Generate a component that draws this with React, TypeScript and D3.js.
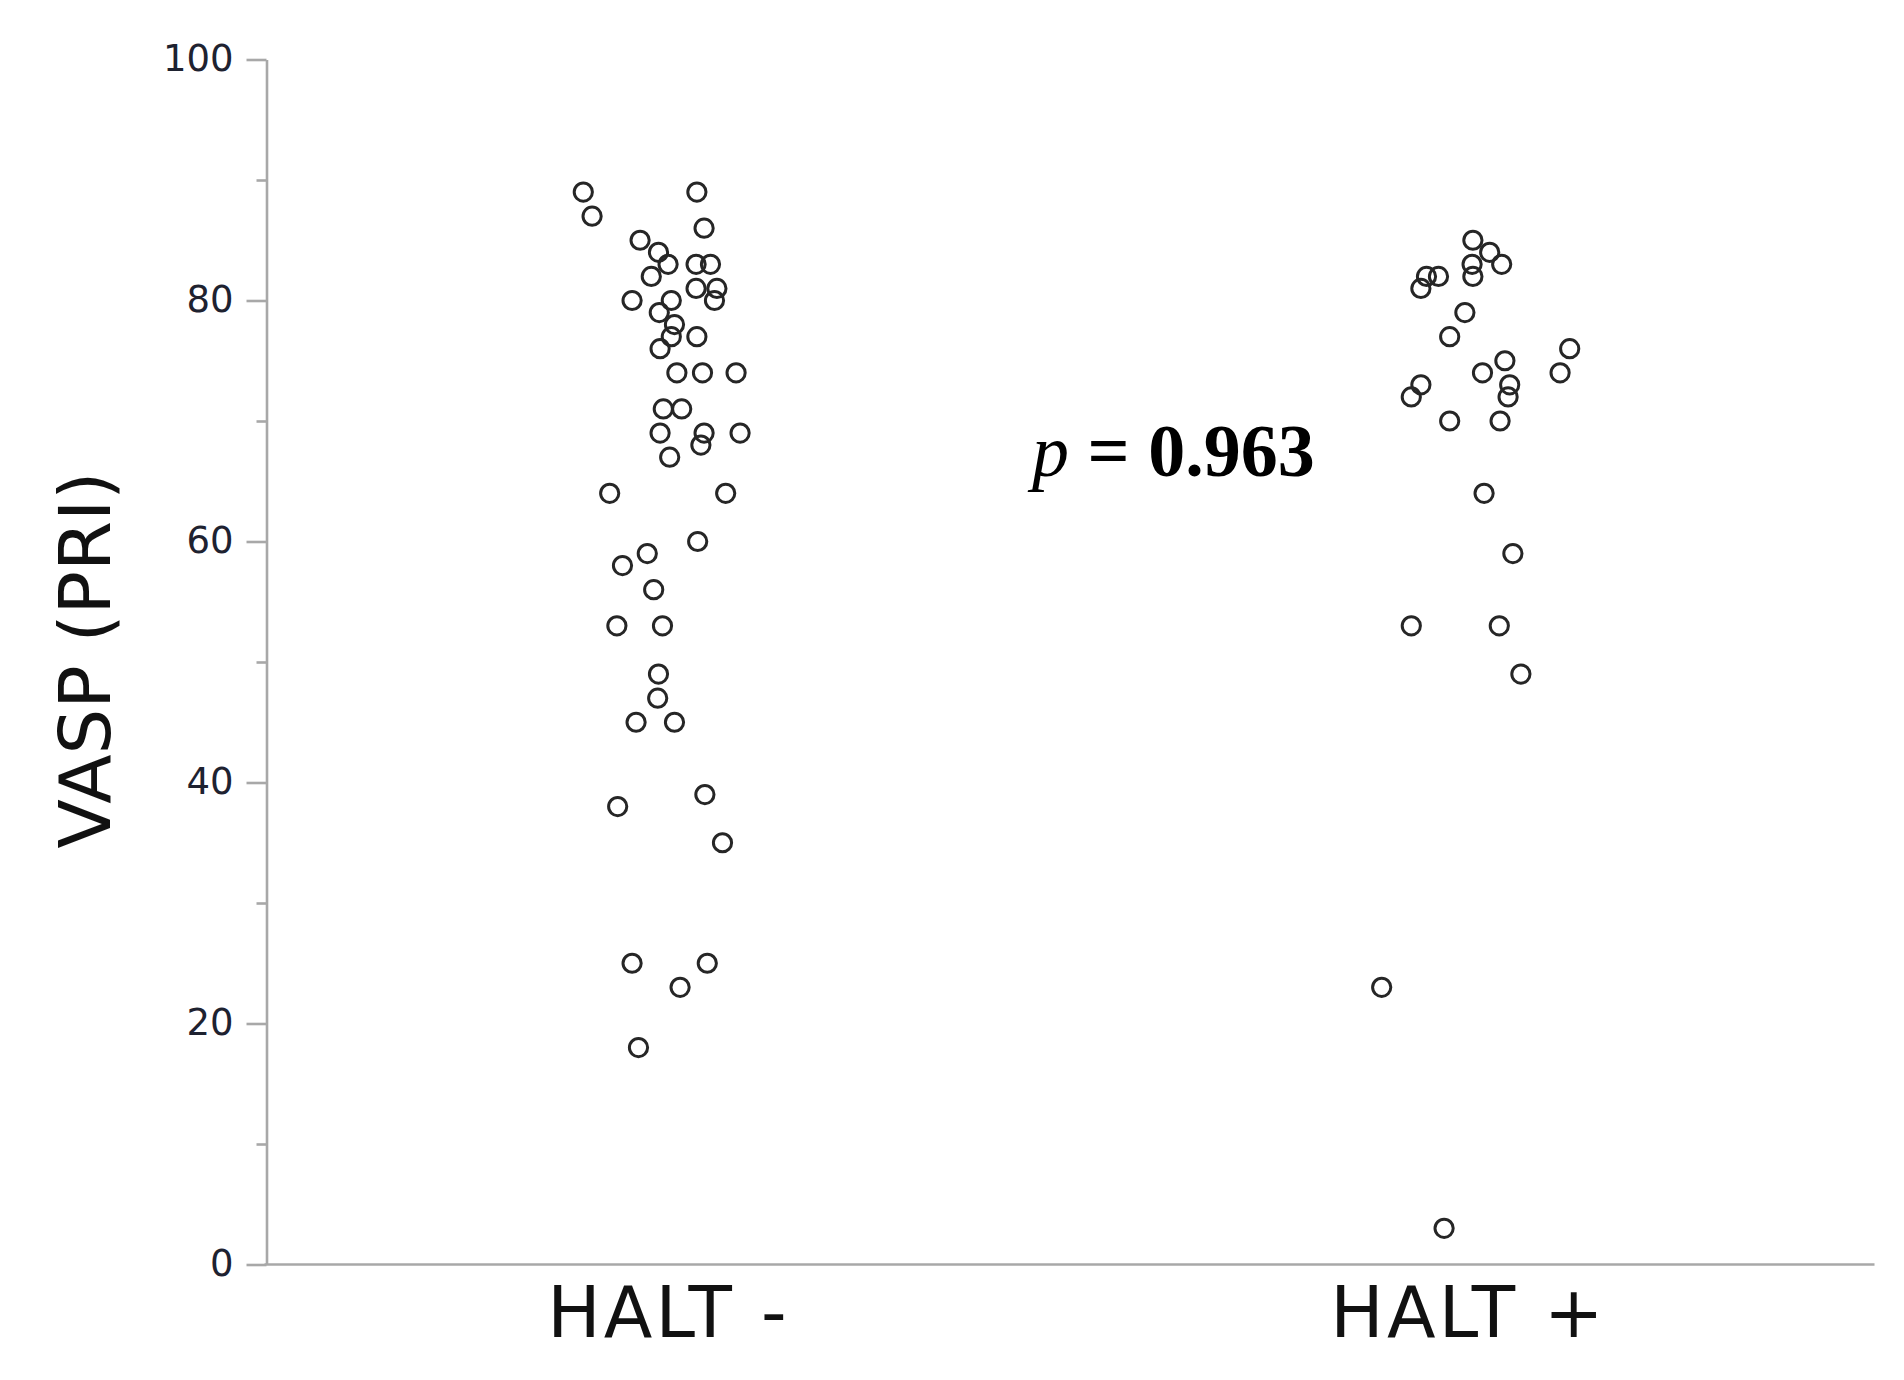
import React, { Component } from 'react';
import * as d3 from 'd3';

// groups on the x axis
const categories = ['HALT -', 'HALT +'];

// VASP (PRI) values, with their horizontal jitter (in category units)
const haltNegValues = [89, 87, 89, 86, 85, 84, 83, 83, 83, 82, 81, 81, 80, 80, 80, 79, 78, 77, 77, 76,
  74, 74, 74, 71, 71, 69, 69, 69, 68, 67, 64, 64, 60, 59, 58, 56, 53, 53, 49, 47, 45, 45, 38, 39, 35,
  25, 25, 23, 18];
const haltNegJitter = [-0.104, -0.093, 0.038, 0.047, -0.033, -0.010, 0.002, 0.037, 0.055, -0.019, 0.037,
  0.063, 0.060, -0.043, 0.006, -0.009, 0.010, 0.006, 0.038, -0.008, 0.013, 0.045, 0.087, -0.004, 0.019,
  -0.008, 0.047, 0.092, 0.043, 0.004, -0.071, 0.074, 0.039, -0.024, -0.055, -0.016, -0.062, -0.005,
  -0.010, -0.011, -0.038, 0.010, -0.061, 0.048, 0.070, -0.043, 0.051, 0.017, -0.035];

const haltPosValues = [85, 84, 83, 83, 82, 82, 82, 81, 79, 77, 76, 75, 74, 74, 73, 73, 72, 72, 70, 70,
  64, 59, 53, 53, 49, 23, 3];
const haltPosJitter = [0.008, 0.029, 0.044, 0.007, 0.008, -0.050, -0.035, -0.057, -0.002, -0.021, 0.129,
  0.048, 0.020, 0.117, 0.054, -0.057, -0.069, 0.052, -0.021, 0.042, 0.022, 0.058, -0.069, 0.041, 0.068,
  -0.106, -0.028];

const yTicks = [0, 20, 40, 60, 80, 100];
const yMinorTicks = [10, 30, 50, 70, 90];
const yLabel = 'VASP (PRI)';
const pValue = '0.963';

class App extends Component {
  svgRef = React.createRef<SVGSVGElement>();

  componentDidMount() {
    const width = 1904, height = 1380;
    const svg = d3.select(this.svgRef.current);
    svg.selectAll('*').remove();

    const axisColor = '#a8a8a8';
    const sans = '"DejaVu Sans", Verdana, sans-serif';

    const x = d3.scaleLinear().domain([-0.5, 1.5]).range([266.5, 1866.5]);
    const y = d3.scaleLinear().domain([0, 100]).range([1264.5, 59.5]);

    // y axis, major ticks with labels
    const yG = svg.append('g')
      .attr('transform', 'translate(' + x(-0.5) + ',0)')
      .call(d3.axisLeft(y).tickValues(yTicks).tickSize(20).tickSizeOuter(0).tickPadding(13));
    yG.select('.domain').attr('stroke', axisColor).attr('stroke-width', 2.6);
    yG.selectAll('.tick line').attr('stroke', axisColor).attr('stroke-width', 2.6);
    yG.selectAll('.tick text')
      .attr('fill', '#1e2230')
      .attr('font-family', sans)
      .attr('font-size', 37)
      .attr('dy', '0.3em');

    // minor ticks
    const yMinor = svg.append('g')
      .attr('transform', 'translate(' + x(-0.5) + ',0)')
      .call(d3.axisLeft(y).tickValues(yMinorTicks).tickSize(10).tickSizeOuter(0).tickFormat(() => ''));
    yMinor.select('.domain').remove();
    yMinor.selectAll('.tick line').attr('stroke', axisColor).attr('stroke-width', 2.6);

    // x axis baseline
    svg.append('line')
      .attr('x1', x(-0.5) - 2).attr('x2', x(1.51))
      .attr('y1', y(0)).attr('y2', y(0))
      .attr('stroke', axisColor).attr('stroke-width', 2.6);

    svg.append('g').selectAll('text')
      .data(categories)
      .enter().append('text')
      .attr('x', (d, i) => x(i) + 2)
      .attr('y', 1337)
      .attr('text-anchor', 'middle')
      .attr('font-family', sans)
      .attr('font-size', 71)
      .attr('letter-spacing', 3.2)
      .attr('fill', '#111')
      .text(d => d);

    // y axis title
    svg.append('text')
      .attr('transform', 'translate(110,660) rotate(-90)')
      .attr('text-anchor', 'middle')
      .attr('font-family', sans)
      .attr('font-size', 72)
      .attr('fill', '#111')
      .text(yLabel);

    // points
    const groups = [
      { idx: 0, values: haltNegValues, jitter: haltNegJitter },
      { idx: 1, values: haltPosValues, jitter: haltPosJitter },
    ];
    groups.forEach(g => {
      svg.append('g').selectAll('circle')
        .data(g.values)
        .enter().append('circle')
        .attr('cx', (d, i) => x(g.idx + g.jitter[i]))
        .attr('cy', d => y(d))
        .attr('r', 9.1)
        .attr('fill', 'none')
        .attr('stroke', '#262626')
        .attr('stroke-width', 3);
    });

    // p value annotation
    const pt = svg.append('text')
      .attr('x', 1032)
      .attr('y', 476)
      .attr('font-family', '"Liberation Serif", "Times New Roman", serif')
      .attr('font-size', 74)
      .attr('fill', '#000');
    pt.append('tspan').attr('font-style', 'italic').text('p');
    pt.append('tspan').attr('font-weight', 'bold').text(' = ' + pValue);

    svg.attr('width', width).attr('height', height);
  }

  render() {
    return (
      <svg
        ref={this.svgRef}
        width={1904}
        height={1380}
        style={{ position: 'absolute', left: 0, top: 0, background: '#fff' }}
      />
    );
  }
}

export default App;
